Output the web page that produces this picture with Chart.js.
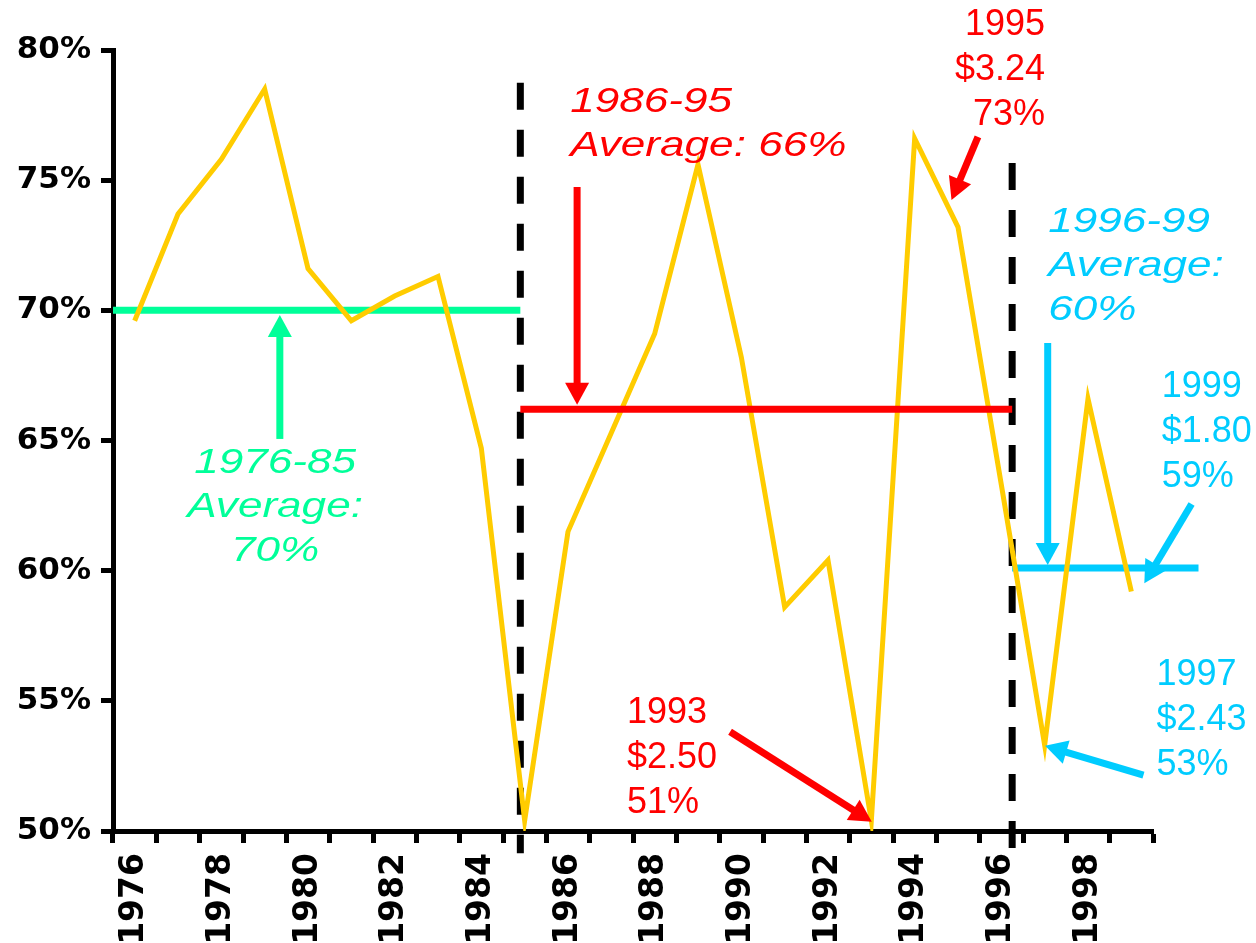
<!DOCTYPE html>
<html>
<head>
<meta charset="utf-8">
<script src="https://cdn.jsdelivr.net/npm/chart.js@4.4.1/dist/chart.umd.min.js"></script>
<style>
  html, body { margin: 0; padding: 0; background: #fff; }
  #wrap { width: 1256px; height: 943px; }
</style>
</head>
<body>
<div id="wrap"><canvas id="c" width="1256" height="943"></canvas></div>
<script>
// ---- data ----
const years = ['1976','1977','1978','1979','1980','1981','1982','1983','1984','1985','1986','1987',
               '1988','1989','1990','1991','1992','1993','1994','1995','1996','1997','1998','1999'];
const ratioPct = [69.6, 73.7, 75.8, 78.5, 71.6, 69.6, 70.55, 71.3, 64.7, 50.4, 61.5, 65.3,
                  69.1, 75.6, 68.2, 58.6, 60.4, 50.4, 76.6, 73.2, 63.3, 53.3, 66.6, 59.2];
const yTicks = [50, 55, 60, 65, 70, 75, 80];

// period averages: [startYear, endYear, value]
const avg7685 = [1975.5, 1984.9, 70];
const avg8695 = [1984.9, 1996.25, 66.2];
const avg9699 = [1996.25, 2000.55, 60.1];
// period dividers: [year, topValue, bottomValue]
const divider1 = [1984.9, 78.74, 49.15];
const divider2 = [1996.25, 75.66, 49.15];

// arrows: [fromYear, fromValue, toYear, toValue]
const arrowGreen = [1979.35, 65.06, 1979.35, 69.82];
const arrowRedAvg = [1986.21, 74.74, 1986.21, 66.37];
const arrowRed93 = [1989.74, 53.81, 1993.01, 50.36];
const arrowRed95 = [1995.46, 76.66, 1994.85, 74.24];
const arrowBlueAvg = [1997.07, 68.75, 1997.07, 60.22];
const arrowBlue99 = [2000.39, 62.56, 1999.30, 59.52];
const arrowBlue97 = [1999.28, 52.15, 1997.01, 53.27];

// notes: text lines + anchor (year, value of first baseline)
const noteGreen = ['1976-85', 'Average:', '70%'];
const noteRedAvg = ['1986-95', 'Average: 66%'];
const noteBlueAvg = ['1996-99', 'Average:', '60%'];
const note95 = ['1995', '$3.24', '73%'];
const note93 = ['1993', '$2.50', '51%'];
const note99 = ['1999', '$1.80', '59%'];
const note97 = ['1997', '$2.43', '53%'];

const GREEN = '#00FF99', RED = '#FF0000', BLUE = '#00CCFF', GOLD = '#FFCC00';

const notes = [
  {lines: noteGreen,   x: 1979.24, y: 63.75, color: GREEN, align: 'center', italic: true},
  {lines: noteRedAvg,  x: 1986.05, y: 77.6,  color: RED,   align: 'left',   italic: true},
  {lines: noteBlueAvg, x: 1997.08, y: 73.02, color: BLUE,  align: 'left',   italic: true},
  {lines: note95,      x: 1997.01, y: 80.58, color: RED,   align: 'right',  italic: false},
  {lines: note93,      x: 1987.36, y: 54.14, color: RED,   align: 'left',   italic: false},
  {lines: note99,      x: 1999.70, y: 66.68, color: BLUE,  align: 'left',   italic: false},
  {lines: note97,      x: 1999.58, y: 55.61, color: BLUE,  align: 'left',   italic: false}
];
const arrows = [
  {a: arrowGreen, color: GREEN}, {a: arrowRedAvg, color: RED}, {a: arrowRed93, color: RED},
  {a: arrowRed95, color: RED}, {a: arrowBlueAvg, color: BLUE}, {a: arrowBlue99, color: BLUE},
  {a: arrowBlue97, color: BLUE}
];

function seg(a) { return [{x: a[0], y: a[2]}, {x: a[1], y: a[2]}]; }
function vline(d) { return [{x: d[0], y: d[1]}, {x: d[0], y: d[2]}]; }

const annotationPlugin = {
  id: 'notes',
  afterDatasetsDraw(chart) {
    const ctx = chart.ctx, xs = chart.scales.x2, ys = chart.scales.y;
    // arrows
    arrows.forEach(ar => {
      const [fx, fy, tx, ty] = ar.a;
      const x1 = xs.getPixelForValue(fx), y1 = ys.getPixelForValue(fy);
      const x2 = xs.getPixelForValue(tx), y2 = ys.getPixelForValue(ty);
      const dx = x2 - x1, dy = y2 - y1, len = Math.hypot(dx, dy);
      const ux = dx / len, uy = dy / len;
      const headLen = 22, headW = 12;
      const bx = x2 - ux * headLen, by = y2 - uy * headLen;
      ctx.save();
      ctx.strokeStyle = ar.color; ctx.fillStyle = ar.color;
      ctx.lineWidth = 7; ctx.lineCap = 'butt';
      ctx.beginPath(); ctx.moveTo(x1, y1); ctx.lineTo(bx + ux * 2, by + uy * 2); ctx.stroke();
      ctx.beginPath();
      ctx.moveTo(x2, y2);
      ctx.lineTo(bx - uy * headW, by + ux * headW);
      ctx.lineTo(bx + uy * headW, by - ux * headW);
      ctx.closePath(); ctx.fill();
      ctx.restore();
    });
    // notes
    notes.forEach(n => {
      const px = xs.getPixelForValue(n.x), py = ys.getPixelForValue(n.y);
      ctx.save();
      ctx.fillStyle = n.color;
      ctx.textBaseline = 'alphabetic';
      ctx.textAlign = n.align;
      if (n.italic) {
        ctx.font = 'italic 35px "Liberation Sans", Arial, sans-serif';
        ctx.translate(px, py);
        ctx.scale(1.26, 1);
        n.lines.forEach((t, i) => ctx.fillText(t, 0, i * 44));
      } else {
        ctx.font = '36px "Liberation Sans", Arial, sans-serif';
        n.lines.forEach((t, i) => ctx.fillText(t, px, py + i * 45));
      }
      ctx.restore();
    });
  }
};

new Chart(document.getElementById('c'), {
  type: 'line',
  data: {
    labels: years,
    datasets: [
      {data: ratioPct, xAxisID: 'x', borderColor: GOLD, borderWidth: 5, pointRadius: 0,
       tension: 0, fill: false, order: 2, borderJoinStyle: 'miter'},
      {data: seg(avg7685), xAxisID: 'x2', borderColor: GREEN, borderWidth: 7, pointRadius: 0, order: 3, clip: false},
      {data: seg(avg8695), xAxisID: 'x2', borderColor: RED, borderWidth: 7, pointRadius: 0, order: 1, clip: false},
      {data: seg(avg9699), xAxisID: 'x2', borderColor: BLUE, borderWidth: 7, pointRadius: 0, order: 3, clip: false},
      {data: vline(divider1), xAxisID: 'x2', borderColor: '#000', borderWidth: 7, borderDash: [27, 20],
       pointRadius: 0, order: 4, clip: false, borderCapStyle: 'butt'},
      {data: vline(divider2), xAxisID: 'x2', borderColor: '#000', borderWidth: 7, borderDash: [27, 20],
       pointRadius: 0, order: 4, clip: false, borderCapStyle: 'butt'}
    ]
  },
  options: {
    responsive: false,
    animation: false,
    events: [],
    layout: {padding: {top: 50, right: 103, left: 0, bottom: 0}},
    plugins: {legend: {display: false}, tooltip: {enabled: false}},
    scales: {
      x: {
        type: 'category', offset: true,
        grid: {offset: true, drawOnChartArea: false, drawTicks: true, tickLength: 12, tickWidth: 5, tickColor: '#000'},
        border: {display: true, color: '#000', width: 5},
        ticks: {
          autoSkip: false, maxRotation: 90, minRotation: 90, padding: 10, color: '#000',
          font: {family: '"DejaVu Sans", sans-serif', weight: 'bold', size: 33},
          callback: (v, i) => (i % 2 === 0 ? years[i] : '')
        },
        afterFit: s => { s.height = 112; }
      },
      x2: {type: 'linear', display: false, min: 1975.5, max: 1999.5},
      y: {
        min: 50, max: 80,
        afterBuildTicks: s => { s.ticks = yTicks.map(v => ({value: v})); },
        grid: {drawOnChartArea: false, drawTicks: true, tickLength: 12, tickWidth: 5, tickColor: '#000'},
        border: {display: true, color: '#000', width: 5},
        ticks: {
          color: '#000', padding: 10,
          font: {family: '"DejaVu Sans", sans-serif', weight: 'bold', size: 31},
          callback: v => v + '%'
        },
        afterFit: s => { s.width = 113; }
      }
    }
  },
  plugins: [annotationPlugin]
});
</script>
</body>
</html>
